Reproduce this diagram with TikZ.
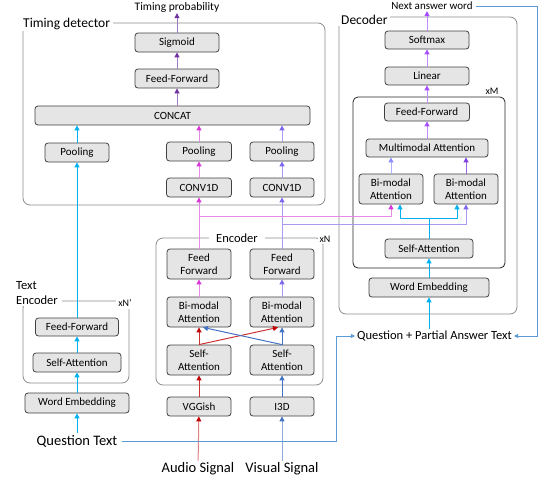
\documentclass[tikz,border=0pt]{standalone}
\usepackage{fontspec}
\setmainfont{Carlito}
\usetikzlibrary{arrows.meta}

\definecolor{cyanc}{HTML}{00B0F0}
\definecolor{magc}{HTML}{D936D9}
\definecolor{magl}{HTML}{E58AE5}
\definecolor{purc}{HTML}{7B68EE}
\definecolor{purl}{HTML}{A89CF0}
\definecolor{dpurc}{HTML}{7030A0}
\definecolor{dpurl}{HTML}{A37BC0}
\definecolor{redc}{HTML}{C00000}
\definecolor{redm}{HTML}{CC3333}
\definecolor{redl}{HTML}{E08080}
\definecolor{bluc}{HTML}{4472C4}
\definecolor{blul}{HTML}{8FAADC}
\definecolor{violc}{HTML}{A64DFF}
\definecolor{violl}{HTML}{C28AFF}
\definecolor{lavc}{HTML}{8C8CFF}
\definecolor{lavl}{HTML}{B0B0FF}
\definecolor{pur2c}{HTML}{8040E0}
\definecolor{pur2l}{HTML}{9A66E6}
\definecolor{qblue}{HTML}{5B9BD5}

\tikzset{
  blk/.style={draw=black!75, fill=black!10, rounded corners=3pt, line width=0.8pt,
    minimum height=19pt, inner sep=0pt, align=center, font=\fontsize{11}{13.3}\selectfont},
  tall/.style={blk, minimum height=30pt},
  grp/.style={draw=black!45, rounded corners=7pt, line width=0.8pt},
  grplbl/.style={fill=white, inner sep=1pt, inner xsep=3pt, font=\fontsize{13.5}{16}\selectfont},
  rep/.style={fill=white, inner sep=2pt, font=\fontsize{10}{12}\selectfont},
  lbl/.style={inner sep=2pt, inner xsep=4pt, font=\fontsize{14.5}{17}\selectfont},
  arr/.style 2 args={draw=#1, line width=1pt, -{Triangle[length=5pt,width=5pt,color=#2]}},
  ln/.style={draw=#1, line width=1pt},
  qarr/.style={draw=qblue, line width=0.8pt, -{Triangle[length=4pt,width=4pt]}},
}

\begin{document}
\begin{tikzpicture}[x=1pt,y=-1pt]
\useasboundingbox (0,0) rectangle (547,483);

% containers
\draw[grp] (23,23) rectangle (325,205);
\draw[grp] (339,17) rectangle (517,314);
\draw[grp] (156,238) rectangle (323,385);
\draw[grp] (23,301) rectangle (129,383);
\draw[draw=black!85, rounded corners=5pt, line width=0.8pt] (353,97) rectangle (505,268);

% timing detector
\node[blk, minimum width=84pt] (sig) at (177,42.5) {Sigmoid};
\node[blk, minimum width=84pt] (tff) at (177,78.5) {Feed-Forward};
\node[blk, minimum width=275pt] (concat) at (172.5,115.5) {CONCAT};
\node[blk, minimum width=64pt] (pool1) at (77,152.5) {Pooling};
\node[blk, minimum width=65pt] (pool2) at (199,151.5) {Pooling};
\node[blk, minimum width=64pt] (pool3) at (282,151.5) {Pooling};
\node[blk, minimum width=65pt] (conv1) at (199,187.5) {CONV1D};
\node[blk, minimum width=64pt] (conv2) at (282,187.5) {CONV1D};
\node[inner sep=1pt, font=\fontsize{11.5}{13}\selectfont] (tprob) at (177,7) {Timing probability};

% decoder
\node[blk, minimum width=84pt, minimum height=18pt] (soft) at (427,40) {Softmax};
\node[blk, minimum width=84pt, minimum height=18pt] (lin) at (427,76) {Linear};
\node[blk, minimum width=85pt, minimum height=18pt] (dff) at (427,112) {Feed-Forward};
\node[blk, minimum width=122pt, minimum height=18pt] (mma) at (427,148) {Multimodal Attention};
\node[tall, minimum width=64pt] (bim1) at (391,189) {Bi-modal\\Attention};
\node[tall, minimum width=64pt] (bim2) at (466,189) {Bi-modal\\Attention};
\node[blk, minimum width=88pt] (sa2) at (429,248.5) {Self-Attention};
\node[blk, minimum width=120pt] (wemb2) at (429,287.5) {Word Embedding};
\node[inner sep=1pt, inner xsep=3pt, font=\fontsize{11}{13}\selectfont] (nextw) at (432,6) {Next answer word};
\node[font=\fontsize{10}{12}\selectfont] (xm) at (492,91) {xM};

% encoder
\node[tall, minimum width=64pt] (eff1) at (199,264) {Feed\\Forward};
\node[tall, minimum width=64pt] (eff2) at (282,264) {Feed\\Forward};
\node[tall, minimum width=64pt] (ebm1) at (199,312) {Bi-modal\\Attention};
\node[tall, minimum width=64pt] (ebm2) at (282,312) {Bi-modal\\Attention};
\node[tall, minimum width=64pt] (esa1) at (199,360) {Self-\\Attention};
\node[tall, minimum width=64pt] (esa2) at (282,360) {Self-\\Attention};
\node[blk, minimum width=64pt] (vgg) at (199,406.5) {VGGish};
\node[blk, minimum width=64pt] (i3d) at (282,406.5) {I3D};
\node[lbl] (audio) at (198,469) {Audio Signal};
\node[lbl] (visual) at (282,469) {Visual Signal};

% text encoder
\node[blk, minimum width=83pt, minimum height=18pt] (ff1) at (77,327) {Feed-Forward};
\node[blk, minimum width=88pt] (sa1) at (77,362.5) {Self-Attention};
\node[blk, minimum width=104pt, minimum height=20pt] (wemb1) at (77,403) {Word Embedding};
\node[lbl] (qtext) at (77,441) {Question Text};
\node[inner sep=2pt, font=\fontsize{12.5}{15}\selectfont] (qpa) at (434.5,336) {Question + Partial Answer Text};

% container labels
\node[grplbl, anchor=west] (tdlbl) at (20,24) {Timing detector};
\node[grplbl, anchor=west] (declbl) at (338,20) {Decoder};
\node[grplbl, inner xsep=7pt, font=\fontsize{12.5}{15}\selectfont] (enclbl) at (237,238) {Encoder};
\node[rep] (xn) at (325,239) {xN};
\node[grplbl, anchor=west, align=left, inner xsep=4pt, font=\fontsize{12.5}{15.5}\selectfont] (telbl) at (12,293) {Text\\Encoder};
\node[rep] (xnp) at (125,303) {xN'};

\coordinate (dbr) at (429,218);
\coordinate (mbr) at (199,216);
\coordinate (pbr) at (282,224);
\coordinate (qbend) at (336,441);
\coordinate (nbend) at (537,336);

% text encoder flow
\draw[arr={cyanc}{cyanc}] (qtext) -- (wemb1);
\draw[arr={cyanc}{cyanc}] (wemb1) -- (sa1);
\draw[arr={cyanc}{cyanc}] (sa1) -- (ff1);
\draw[arr={cyanc}{cyanc}] (ff1) -- (pool1);
\draw[arr={cyanc}{cyanc}] (pool1.north) -- (pool1.north |- concat.south);

% audio / visual flow
\draw[arr={redl}{redc}] (audio) -- (vgg);
\draw[arr={blul}{bluc}] (visual) -- (i3d);
\draw[arr={redm}{redc}] (vgg) -- (esa1);
\draw[arr={bluc}{bluc}] (i3d) -- (esa2);
\draw[arr={redm}{redc}] (esa1) -- (ebm1);
\draw[arr={bluc}{bluc}] (esa2) -- (ebm2);
\draw[arr={redm}{redc}] (esa1.north) -- ([xshift=-4pt]ebm2.south);
\draw[arr={bluc}{bluc}] (esa2.north) -- ([xshift=4pt]ebm1.south);
\draw[arr={magl}{magc}] (ebm1) -- (eff1);
\draw[arr={purl}{purc}] (ebm2) -- (eff2);
\draw[arr={magl}{magc}] (eff1) -- (conv1);
\draw[arr={purl}{purc}] (eff2) -- (conv2);
\draw[arr={magl}{magc}] (mbr) -| (bim1.south);
\draw[arr={purl}{purc}] (pbr) -| (bim2.south);

% timing detector flow
\draw[arr={magl}{magc}] (conv1) -- (pool2);
\draw[arr={purl}{purc}] (conv2) -- (pool3);
\draw[arr={magl}{magc}] (pool2.north) -- (pool2.north |- concat.south);
\draw[arr={purl}{purc}] (pool3.north) -- (pool3.north |- concat.south);
\draw[arr={dpurl}{dpurc}] (concat.north -| tff.south) -- (tff.south);
\draw[arr={dpurl}{dpurc}] (tff) -- (sig);
\draw[arr={dpurl}{dpurc}] (sig) -- (tprob);

% decoder flow
\draw[qarr] (qtext.east) -- (qbend) |- (qpa.west);
\draw[qarr] (nextw.east) -| (nbend) -- (qpa.east);
\draw[arr={cyanc}{cyanc}] (qpa.north -| wemb2.south) -- (wemb2.south);
\draw[arr={cyanc}{cyanc}] (wemb2) -- (sa2);
\draw[ln=cyanc] (sa2.north) -- (dbr);
\draw[arr={cyanc}{cyanc}] (dbr) -| ([xshift=9pt]bim1.south);
\draw[arr={cyanc}{cyanc}] (dbr) -| ([xshift=-9pt]bim2.south);
\draw[arr={lavl}{lavc}] (bim1.north) -- (bim1.north |- mma.south);
\draw[arr={pur2l}{pur2c}] (bim2.north) -- (bim2.north |- mma.south);
\draw[arr={violl}{violc}] (mma) -- (dff);
\draw[arr={violl}{violc}] (dff) -- (lin);
\draw[arr={violl}{violc}] (lin) -- (soft);
\draw[arr={violl}{violc}] (soft.north) -- (soft.north |- nextw.south);
\end{tikzpicture}
\end{document}
